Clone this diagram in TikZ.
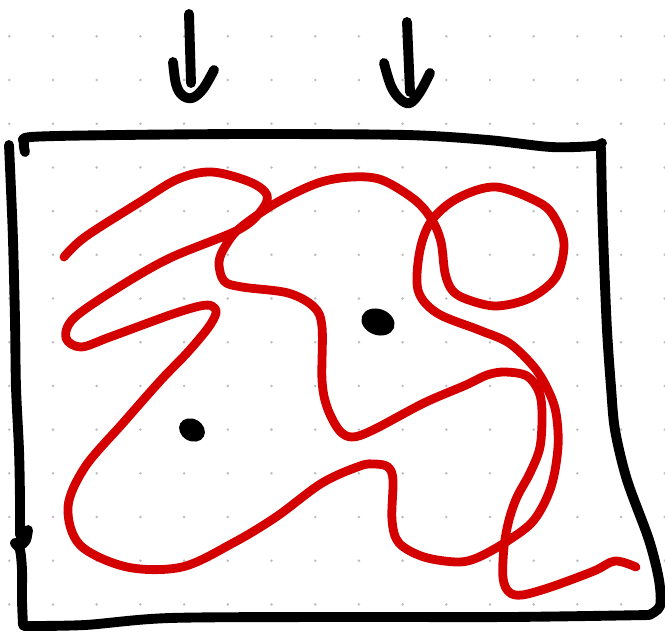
\documentclass[tikz,border=0pt]{standalone}
\definecolor{sketchred}{HTML}{D40000}
\definecolor{griddot}{HTML}{BDBDBD}
\tikzset{
  blackstroke/.style={line width=7.4pt, black, line cap=round, line join=round},
  redstroke/.style={line width=6.6pt, sketchred, line cap=round, line join=round},
}
\begin{document}
\begin{tikzpicture}[x=0.75pt,y=-0.75pt]
\useasboundingbox (0,0) rectangle (665,633);
\fill[white] (0,0) rectangle (665,633);
% dot grid
\foreach \i in {0,...,15} {
  \foreach \j in {0,...,13} {
    \fill[griddot] ({9.3+43.7*\i},{36.3+43.7*\j}) circle (1.4);
  }
}
% arrows
\draw[blackstroke] (189,14) -- (191,83);
\draw[blackstroke] plot[smooth,tension=0.6] coordinates {(173,62) (176,84) (182,95) (192,98) (203,89) (214,70)};
\draw[blackstroke] (407,22) -- (410,92);
\draw[blackstroke] plot[smooth,tension=0.6] coordinates {(384,63) (391,86) (400,99) (410,103) (420,92) (430,73)};
% box
\draw[blackstroke] plot[smooth,tension=0.5] coordinates {(25,152) (24,143) (31,137) (120,135) (255,134) (407,135) (488,140) (551,147) (594,146) (602,143)};
\draw[blackstroke] plot[smooth,tension=0.5] coordinates {(601,148) (602,200) (604,260) (607,330) (611,387) (615,430) (627,480) (649,540) (659,580) (660,606) (649,615)};
\draw[blackstroke] plot[smooth,tension=0.5] coordinates {(649,615) (509,617) (339,617) (170,618) (85,625) (24,626)};
\draw[blackstroke] plot[smooth,tension=0.5] coordinates {(9,145) (11,190) (13,240) (15,320) (16,387) (19,450) (20,500) (20,535)};
\draw[blackstroke] plot[smooth,tension=0.5] coordinates {(28,530) (26,540) (21,545) (15,543) (20,550) (22,570) (22,600) (23,625)};
% red curve
\draw[redstroke] plot[smooth,tension=0.55] coordinates {
(636,567) (615,561) (594,571) (551,587) (522,595) (509,592) (503,578) (504,547) (509,520) (517,497) (530,473) (540,447) (542,413) (539,392) (527,376) (505,372) (487,375) (466,385) (424,403) (373,430) (352,437) (339,430) (327,407) (322,380) (322,327) (314,307) (288,293) (242,287) (224,281) (219,262) (226,245) (240,228) (276,203) (318,183) (352,177) (382,180) (415,200) (432,220) (441,242) (445,273) (452,290) (466,299) (496,306) (530,298) (556,277) (564,245) (556,220) (540,203) (496,187) (458,198) (432,220) (420,250) (418,290) (437,313) (479,330) (509,343) (534,367) (548,390) (556,413) (558,447) (551,487) (534,520) (509,540) (479,557) (458,562) (424,557) (399,543) (392,520) (393,480) (388,467) (375,464) (360,466) (322,483) (276,517) (233,543) (182,567) (127,567) (80,545) (68,507) (85,467) (123,423) (161,380) (187,353) (208,328) (216,313) (212,306) (200,306) (170,315) (110,337) (81,347) (66,338) (74,318) (119,287) (170,258) (238,230) (261,211) (267,195) (250,182) (212,172) (178,179) (140,202) (85,237) (64,257)};
% black blobs
\fill[black, rotate around={-20:(378,322)}] (378,322) ellipse (17 and 13);
\fill[black, rotate around={-30:(192,430)}] (192,430) ellipse (13.5 and 11);
\end{tikzpicture}
\end{document}
